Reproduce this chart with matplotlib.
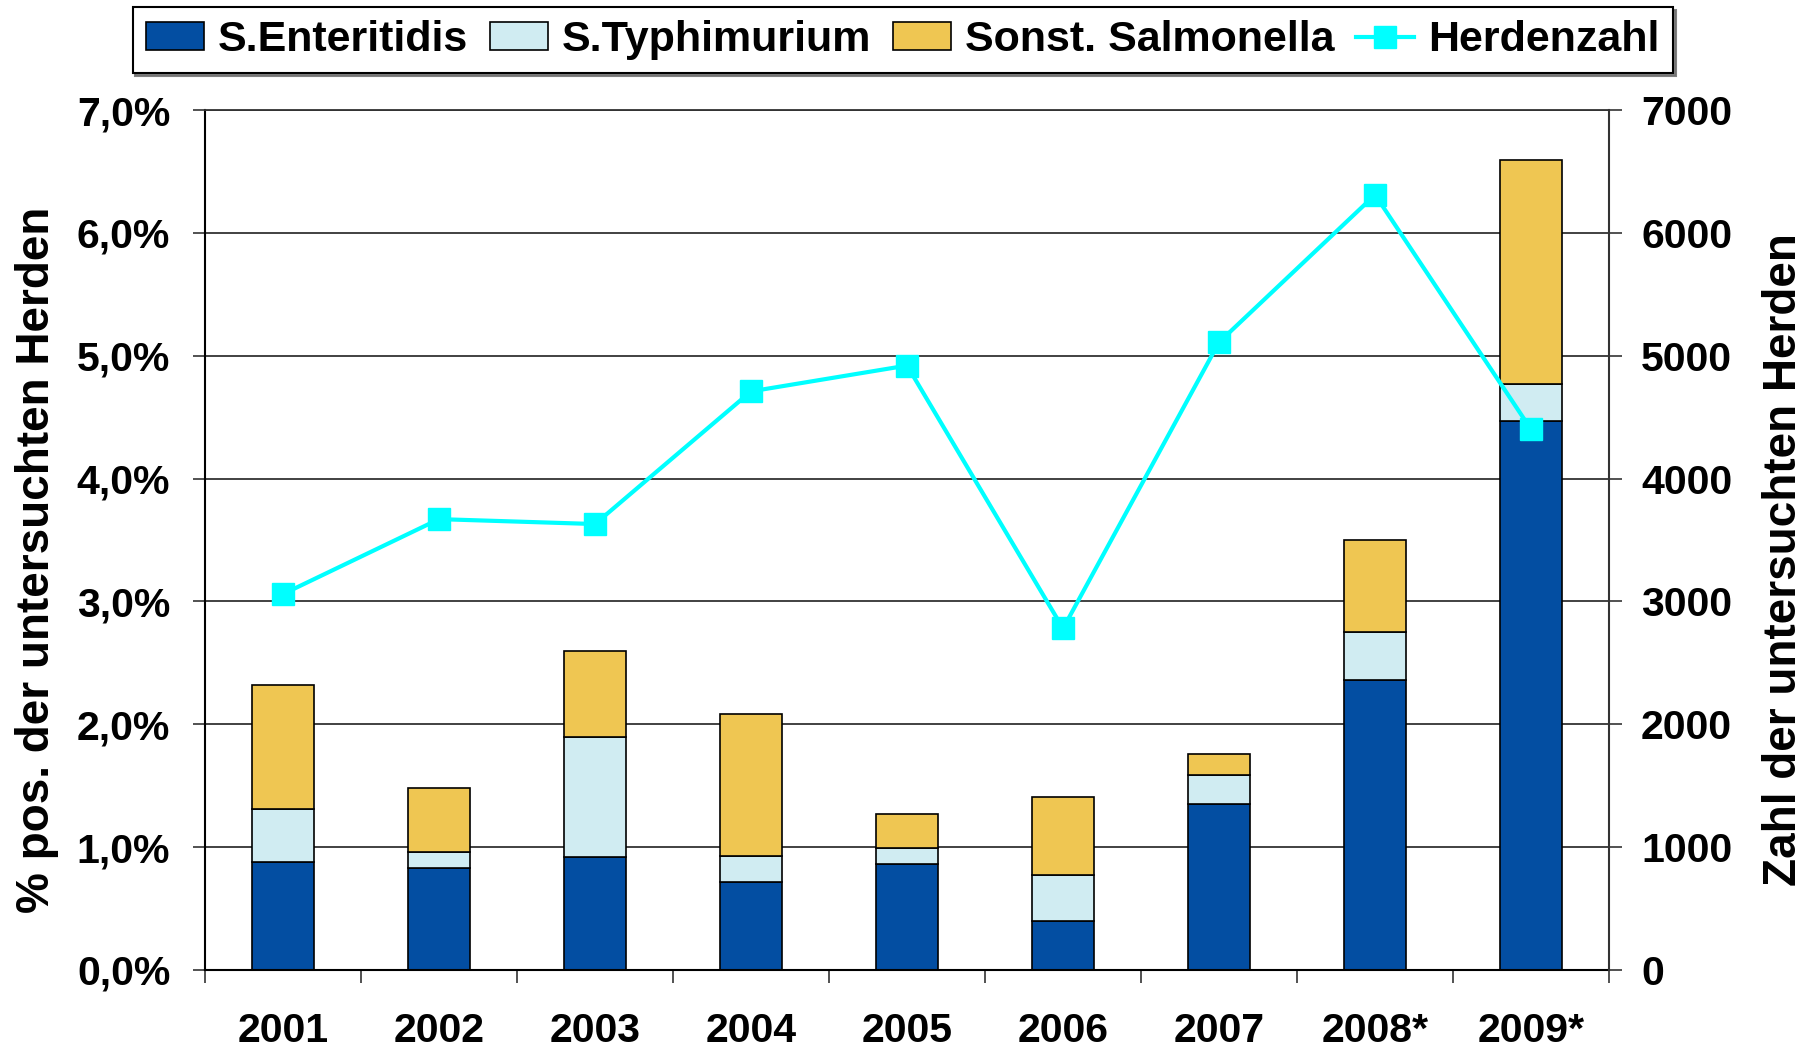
import numpy as np
import matplotlib
matplotlib.use('agg')
import matplotlib.pyplot as plt
from matplotlib.ticker import FixedLocator

plt.rcParams['font.family'] = ['Liberation Sans', 'DejaVu Sans']
plt.rcParams['font.weight'] = 'bold'

years = ['2001', '2002', '2003', '2004', '2005', '2006', '2007', '2008*', '2009*']
# percent of examined flocks (stacked segments)
enteritidis = [0.88, 0.83, 0.92, 0.72, 0.86, 0.40, 1.35, 2.36, 4.47]
typhimurium = [0.43, 0.13, 0.98, 0.21, 0.13, 0.37, 0.24, 0.39, 0.30]
sonstige = [1.01, 0.52, 0.70, 1.15, 0.28, 0.64, 0.17, 0.75, 1.82]
# number of examined flocks
herdenzahl = [3060, 3670, 3630, 4710, 4920, 2780, 5110, 6310, 4400]

pct_ticks = [0, 1, 2, 3, 4, 5, 6, 7]
pct_labels = ['0,0%', '1,0%', '2,0%', '3,0%', '4,0%', '5,0%', '6,0%', '7,0%']
cnt_ticks = [0, 1000, 2000, 3000, 4000, 5000, 6000, 7000]

c_ent = '#034ea2'
c_typ = '#d0ecf2'
c_son = '#efc652'
c_line = '#00ffff'

fig = plt.figure(figsize=(18.11, 10.5), dpi=100)
ax = fig.add_axes([0.1132, 0.0762, 0.7753, 0.819])

x = np.arange(len(years))
w = 0.4
bot2 = np.array(enteritidis)
bot3 = bot2 + np.array(typhimurium)
b1 = ax.bar(x, enteritidis, w, color=c_ent, edgecolor='black', linewidth=1.2, label='S.Enteritidis')
b2 = ax.bar(x, typhimurium, w, bottom=bot2, color=c_typ, edgecolor='black', linewidth=1.2, label='S.Typhimurium')
b3 = ax.bar(x, sonstige, w, bottom=bot3, color=c_son, edgecolor='black', linewidth=1.2, label='Sonst. Salmonella')

ax.set_xlim(-0.5, len(years) - 0.5)
ax.set_ylim(0, 7)
ax.set_yticks(pct_ticks)
ax.set_yticklabels(pct_labels)
ax.yaxis.grid(True, color='#333333', linewidth=1.3)
ax.set_axisbelow(True)

# ticks between categories, labels at the centre
ax.xaxis.set_major_locator(FixedLocator(np.arange(-0.5, len(years), 1)))
ax.xaxis.set_minor_locator(FixedLocator(x))
ax.set_xticklabels([], minor=False)
ax.set_xticklabels(years, minor=True)
ax.tick_params(axis='x', which='major', length=9, width=1.2, color='#333333', direction='out')
ax.tick_params(axis='x', which='minor', length=0, pad=30, labelsize=29.5)
ax.tick_params(axis='y', length=9, width=1.2, color='#333333', direction='out', pad=16, labelsize=29.5)

for s in ['left', 'bottom']:
  ax.spines[s].set_linewidth(1.5)
  ax.spines[s].set_color('black')
ax.spines['top'].set_color('#333333')
ax.spines['top'].set_linewidth(1.3)
ax.spines['right'].set_visible(False)

ax2 = ax.twinx()
ln, = ax2.plot(x, herdenzahl, color=c_line, linewidth=3, marker='s', markersize=16, label='Herdenzahl')
ax2.set_ylim(0, 7000)
ax2.set_yticks(cnt_ticks)
ax2.tick_params(axis='y', length=9, width=1.2, color='#333333', direction='out', pad=14, labelsize=29.5)
ax2.spines['right'].set_linewidth(1.5)
ax2.spines['right'].set_color('#333333')
for s in ['left', 'top', 'bottom']:
  ax2.spines[s].set_visible(False)

fig.text(37 / 1811., 1 - 560 / 1050., '% pos. der untersuchten Herden', rotation=90,
         ha='center', va='center', fontsize=33, fontweight='bold')
fig.text(1784 / 1811., 1 - 560 / 1050., 'Zahl der untersuchten Herden', rotation=90,
         ha='center', va='center', fontsize=33, fontweight='bold')

leg = fig.legend([b1, b2, b3, ln], ['S.Enteritidis', 'S.Typhimurium', 'Sonst. Salmonella', 'Herdenzahl'],
                 loc='upper center', bbox_to_anchor=(0.4985, 0.993), ncol=4, fontsize=31,
                 frameon=True, fancybox=False, shadow={'color': '0.45', 'alpha': 0.9},
                 handlelength=1.35, handleheight=0.63, handletextpad=0.33, columnspacing=0.5,
                 borderpad=0.3, borderaxespad=0)
leg.get_frame().set_edgecolor('black')
leg.get_frame().set_linewidth(1.5)

plt.savefig('out.png', dpi=100)
